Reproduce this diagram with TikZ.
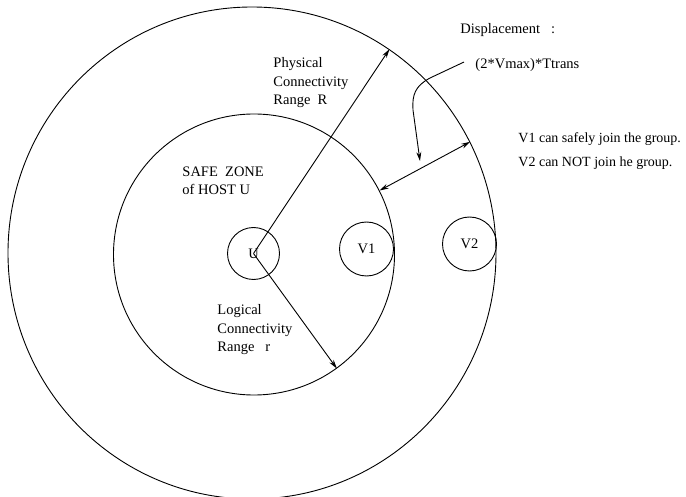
\documentclass[tikz,border=0pt]{standalone}
\usepackage{fontspec}
\setmainfont{Liberation Serif}
\usepackage{tikz}
\usetikzlibrary{shapes,arrows,positioning,calc,arrows.meta}

\begin{document}
\begin{tikzpicture}[x=1pt,y=-1pt,line width=0.9pt,
    every node/.style={font=\fontsize{14.5}{18.5}\selectfont},
    lbl/.style={anchor=north west,inner sep=0pt,align=left},
    ring/.style={draw,circle,inner sep=0pt},
    >={Stealth[length=9pt,width=5pt]}]
    \useasboundingbox (0,0) rectangle (686,497);

    % zones around host U
    \node[draw,ellipse,inner sep=0pt,minimum width=488,minimum height=492] (outer) at (252,253) {};
    \node[ring,minimum size=281] (inner) at (254,254.5) {};
    \node[ring,minimum size=52] (u) at (253.5,253.5) {U};
    \foreach \i/\x/\y in {1/366.5/249,2/469.5/244} {
        \node[ring,minimum size=54] (v\i) at (\x,\y) {V\i};
    }

    % ranges
    \draw[->] (u.center) -- (outer.56.5);
    \draw[->] (u.center) -- (inner.-54.6);
    \draw[<->] (inner.27.3) -- (outer.27.3);

    \node[lbl] (phys) at (273,57) {Physical\\Connectivity\\Range~~R};
    \node[lbl] (safe) at (182,166) {SAFE\ \ ZONE\\of HOST U};
    \node[lbl] (logic) at (217,304) {Logical\\Connectivity\\Range\ \ \ r};

    % displacement
    \node[lbl] (disp) at (460,23) {Displacement\ \ \ :};
    \node[lbl] (trans) at (475,58) {(2*Vmax)*Ttrans};
    \coordinate (hit) at (420,161);
    \draw[->] ([xshift=-11pt,yshift=3pt]trans.west) -- (430,78)
        .. controls (415,86) and (412,95) .. (413,110) -- (hit);

    \node[lbl,anchor=base west,font=\fontsize{14}{18}\selectfont] (v1txt) at (518,143) {V1 can safely join the group.};
    \node[lbl,anchor=base west,font=\fontsize{14}{18}\selectfont] (v2txt) at (518,167) {V2 can NOT join he group.};
\end{tikzpicture}
\end{document}
